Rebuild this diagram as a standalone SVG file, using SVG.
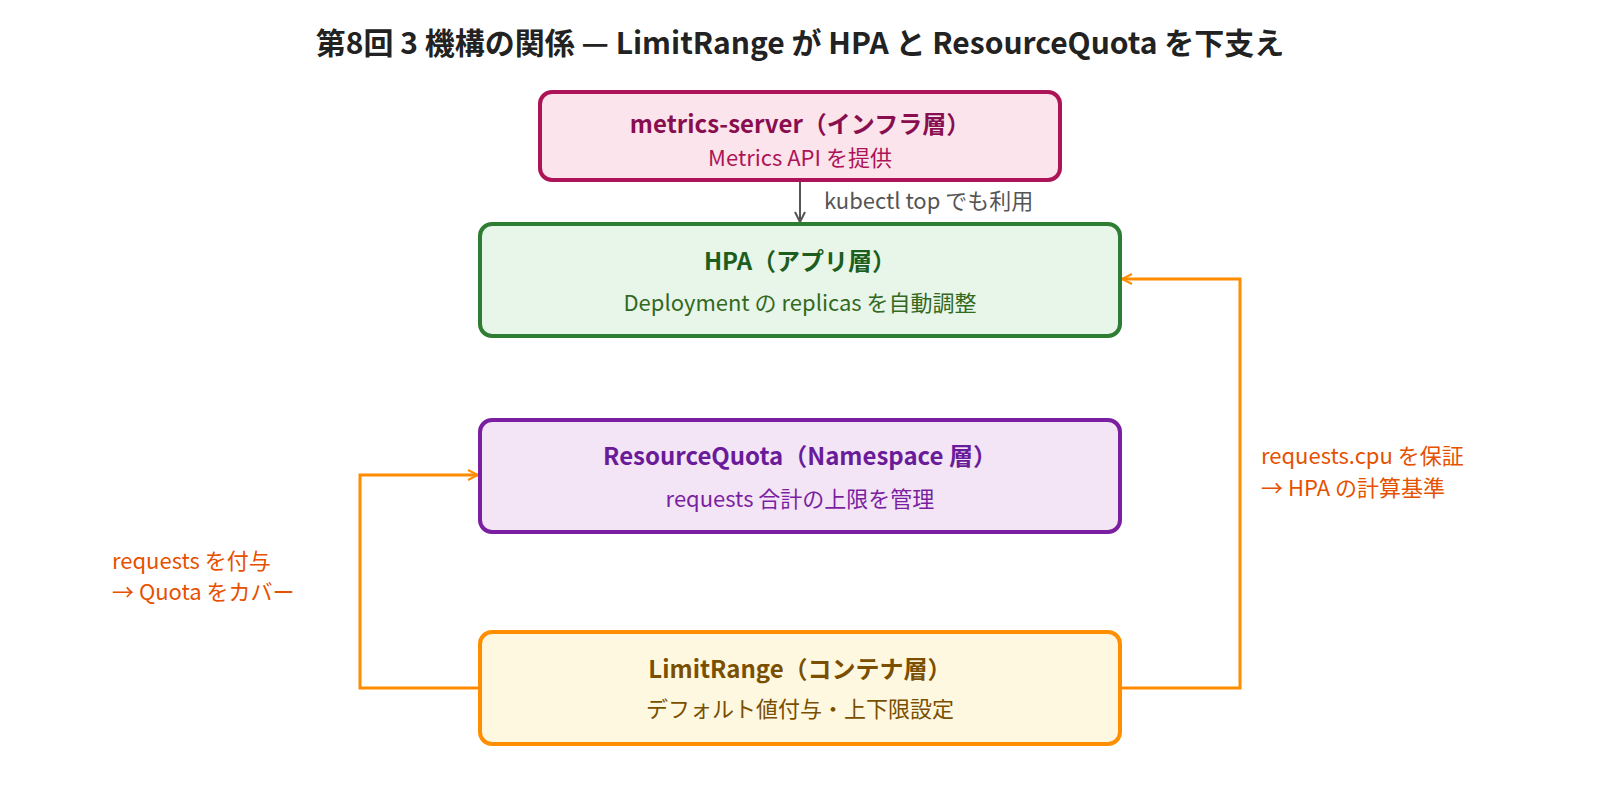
<svg xmlns="http://www.w3.org/2000/svg" width="1600" height="800" viewBox="0 0 1600 800">
<style>
text{font-family:"Noto Sans CJK JP","Noto Sans",sans-serif;text-anchor:middle}
.title{font-size:30px;font-weight:bold;fill:#222}
.nt{font-size:24px;font-weight:bold}
.ns{font-size:22px}
.lbl{font-size:22px;fill:#E65100;text-anchor:start}
.box{stroke-width:4}
.conn{fill:none;stroke:#FF8C00;stroke-width:3}
</style>
<defs>
<marker id="ao" viewBox="0 0 12 12" refX="11" refY="6" markerWidth="12" markerHeight="12" markerUnits="userSpaceOnUse" orient="auto">
<path d="M1,1 L11,6 L1,11" fill="none" stroke="#FF8C00" stroke-width="2"/>
</marker>
<marker id="ag" viewBox="0 0 12 12" refX="11" refY="6" markerWidth="12" markerHeight="12" markerUnits="userSpaceOnUse" orient="auto">
<path d="M1,1 L11,6 L1,11" fill="none" stroke="#555" stroke-width="2"/>
</marker>
</defs>
<rect width="1600" height="800" fill="#fff"/>
<text class="title" x="800" y="54">第8回 3 機構の関係 — LimitRange が HPA と ResourceQuota を下支え</text>

<g id="connectors">
<line x1="800" y1="180" x2="800" y2="222" stroke="#555" stroke-width="2" marker-end="url(#ag)"/>
<text class="lbl" x="824" y="209" style="fill:#555">kubectl top でも利用</text>
<path class="conn" d="M1120,688 H1240 V279 H1122" marker-end="url(#ao)"/>
<text class="lbl" x="1261" y="464">requests.cpu を保証</text>
<text class="lbl" x="1261" y="496">→ HPA の計算基準</text>
<path class="conn" d="M480,688 H360 V475 H478" marker-end="url(#ao)"/>
<text class="lbl" x="112" y="569">requests を付与</text>
<text class="lbl" x="112" y="600">→ Quota をカバー</text>
</g>

<g id="metrics-server">
<rect class="box" x="540" y="92" width="520" height="88" rx="12" fill="#FCE4EC" stroke="#AD1457"/>
<text class="nt" x="800" y="133" fill="#880E4F">metrics-server（インフラ層）</text>
<text class="ns" x="800" y="166" fill="#AD1457">Metrics API を提供</text>
</g>

<g id="hpa">
<rect class="box" x="480" y="224" width="640" height="112" rx="12" fill="#E8F5E9" stroke="#2E7D32"/>
<text class="nt" x="800" y="270" fill="#1B5E20">HPA（アプリ層）</text>
<text class="ns" x="800" y="311" fill="#33691E">Deployment の replicas を自動調整</text>
</g>

<g id="resourcequota">
<rect class="box" x="480" y="420" width="640" height="112" rx="12" fill="#F3E5F5" stroke="#7B1FA2"/>
<text class="nt" x="800" y="465" fill="#6A1B9A">ResourceQuota（Namespace 層）</text>
<text class="ns" x="800" y="507" fill="#7B1FA2">requests 合計の上限を管理</text>
</g>

<g id="limitrange">
<rect class="box" x="480" y="632" width="640" height="112" rx="12" fill="#FFF8E1" stroke="#FF8F00"/>
<text class="nt" x="800" y="678" fill="#7A4F00">LimitRange（コンテナ層）</text>
<text class="ns" x="800" y="717" fill="#7A4F00">デフォルト値付与・上下限設定</text>
</g>
</svg>
